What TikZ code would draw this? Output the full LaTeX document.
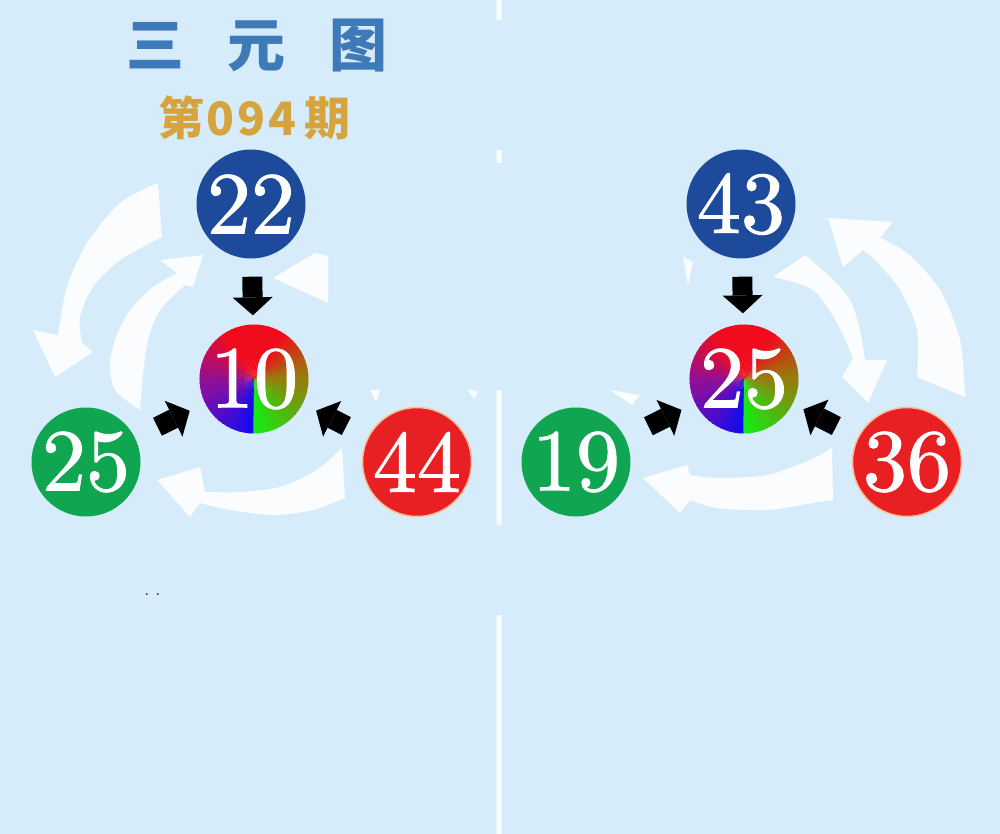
\documentclass[tikz,border=0pt]{standalone}
\usepackage{fontspec}
\newfontfamily\cjk{Noto Sans CJK SC}
\newfontfamily\numfont{lmroman10-regular}[Extension=.otf,FakeBold=1.2]
\usetikzlibrary{arrows.meta}
\definecolor{bg}{RGB}{214,236,250}
\definecolor{titleblue}{RGB}{62,122,184}
\definecolor{gold}{RGB}{214,164,62}
\definecolor{ballblue}{RGB}{30,74,156}
\definecolor{ballgreen}{RGB}{16,165,80}
\definecolor{ballred}{RGB}{232,32,36}
\definecolor{peach}{RGB}{250,190,150}
\definecolor{conB}{RGB}{20,10,240}
\definecolor{conP}{RGB}{135,15,160}
\definecolor{conR}{RGB}{240,12,28}
\definecolor{conO}{RGB}{150,125,12}
\definecolor{conG}{RGB}{20,235,20}
% #1 x, #2 y, #3 start angle, #4 number of 5-degree steps, #5 colour A, #6 colour B
\newcommand\conicseg[6]{%
  \foreach \i in {1,...,#4}{%
    \pgfmathsetmacro\aa{#3+5*(\i-1)}%
    \pgfmathsetmacro\bb{#3+5*\i+0.8}%
    \pgfmathtruncatemacro\pp{100-round(100*(\i-1)/(#4-1))}%
    \fill[#5!\pp!#6] (#1,#2) -- ++(\aa:54.5) arc[start angle=\aa,end angle=\bb,radius=54.5] -- cycle;
  }}
\newcommand\conicdisc[2]{%
  \conicseg{#1}{#2}{90}{16}{conB}{conP}%
  \conicseg{#1}{#2}{170}{14}{conP}{conR}%
  \conicseg{#1}{#2}{240}{12}{conR}{conR}%
  \conicseg{#1}{#2}{300}{12}{conR}{conO}%
  \conicseg{#1}{#2}{360}{18}{conO}{conG}}
\begin{document}
\begin{tikzpicture}[x=1pt,y=-1pt,
  ball/.style={circle,minimum size=109pt,inner sep=0pt,text=white,font=\numfont\fontsize{88}{88}\selectfont},
  blk/.style={draw=black,line width=20pt,-{Triangle[width=40pt,length=18pt,line width=0pt]}},
  wht/.style={fill=white,fill opacity=0.88},
  divider/.style={fill=white,fill opacity=0.85}]
\useasboundingbox (0,0) rectangle (1000,834);
\fill[bg] (0,0) rectangle (1000,834);
% divider
\fill[divider] (496.5,0) rectangle (501.5,20)
  (496.5,150) rectangle (501.5,163)
  (496.5,390) rectangle (501.5,525)
  (496.5,615) rectangle (501.5,834);
% titles
\node[name=title,text=titleblue,font=\cjk\bfseries\fontsize{58}{58}\selectfont] at (257,46) {三\hspace{44pt}元\hspace{44pt}图};
\node[name=issue,text=gold,font=\cjk\bfseries\fontsize{46}{46}\selectfont] at (255,118) {第\kern2pt 0\kern3pt 9\kern3pt 4\kern8pt 期};
\node[name=dots,text=black!85,font=\bfseries\fontsize{13}{13}\selectfont] at (152.5,595) {.\kern7pt.};
% ---- left white arrows
\fill[wht] plot[smooth] coordinates {(158,183) (120,203) (87,243) (67,287) (58,335)}
  -- (33,330) -- (55,377) -- (93,352) -- (82,343)
  -- plot[smooth] coordinates {(82,343) (80,317) (93,287) (120,260) (162,237)} -- cycle;
\fill[wht] plot[smooth] coordinates {(140,410) (115,390) (110,363) (117,335) (130,310) (153,287) (177,273)}
  -- (160,260) -- (203,255) -- (193,287) -- (185,285)
  -- plot[smooth] coordinates {(185,285) (160,310) (148,340) (143,375) (140,410)} -- cycle;
\fill[wht] (273,278) -- (315,253) -- (328,256) -- (328,303) -- cycle;
\fill[wht] plot[smooth] coordinates {(342,448) (317,470) (280,487) (240,492) (205,492)}
  -- (200,467) -- (157,480) -- (190,517) -- (200,503)
  -- plot[smooth] coordinates {(200,503) (230,510) (273,515) (313,510) (345,498)} -- cycle;
\fill[wht] (370,390) -- (380,390) -- (376,402) -- cycle;
\fill[wht] (467,389) -- (478,392) -- (474,399) -- cycle;
% ---- right white arrows
\fill[wht] plot[smooth] coordinates {(965,397) (960,340) (940,290) (907,253) (880,238)}
  -- (893,222) -- (828,218) -- (843,267) -- (863,250)
  -- plot[smooth] coordinates {(863,250) (877,262) (900,290) (917,330) (917,377)} -- cycle;
\fill[wht] plot[smooth] coordinates {(805,255) (830,277) (850,300) (860,330) (865,360)}
  -- (887,360) -- (868,403) -- (842,377) -- (853,358)
  -- plot[smooth] coordinates {(853,358) (837,323) (813,290) (773,277)} -- cycle;
\fill[wht] plot[smooth] coordinates {(832,448) (810,460) (767,475) (717,478) (690,475)}
  -- (687,465) -- (643,478) -- (680,513) -- (690,500)
  -- plot[smooth] coordinates {(690,500) (717,508) (767,510) (813,503) (833,500)} -- cycle;
\fill[wht] (683,257) -- (693,262) -- (688,285) -- cycle;
\fill[wht] (610,390) -- (640,395) -- (632,405) -- cycle;
% ---- left balls
\node[ball,fill=ballblue,name=a1] at (251,204) {22};
\conicdisc{254}{379}
\node[ball,name=c1] at (254,379) {10};
\node[ball,fill=ballgreen,name=a2] at (86,462) {25};
\node[ball,fill=ballred,draw=peach,line width=1.5pt,name=a3] at (417,462) {44};
% ---- right balls
\node[ball,fill=ballblue,name=b1] at (741,204) {43};
\conicdisc{744}{379}
\node[ball,name=c2] at (744,379) {25};
\node[ball,fill=ballgreen,name=b2] at (576,462) {19};
\node[ball,fill=ballred,draw=peach,line width=1.5pt,name=b3] at (907,462) {36};
% ---- black arrows
\draw[blk,shorten <=18pt,shorten >=9pt] (a1) -- (c1);
\draw[blk,shorten <=25pt,shorten >=17pt] (a2) -- (c1);
\draw[blk,shorten <=24pt,shorten >=15pt] (a3) -- (c1);
\draw[blk,shorten <=18pt,shorten >=11pt] (b1) -- (c2);
\draw[blk,shorten <=26pt,shorten >=15pt] (b2) -- (c2);
\draw[blk,shorten <=24pt,shorten >=12pt] (b3) -- (c2);
\end{tikzpicture}
\end{document}
